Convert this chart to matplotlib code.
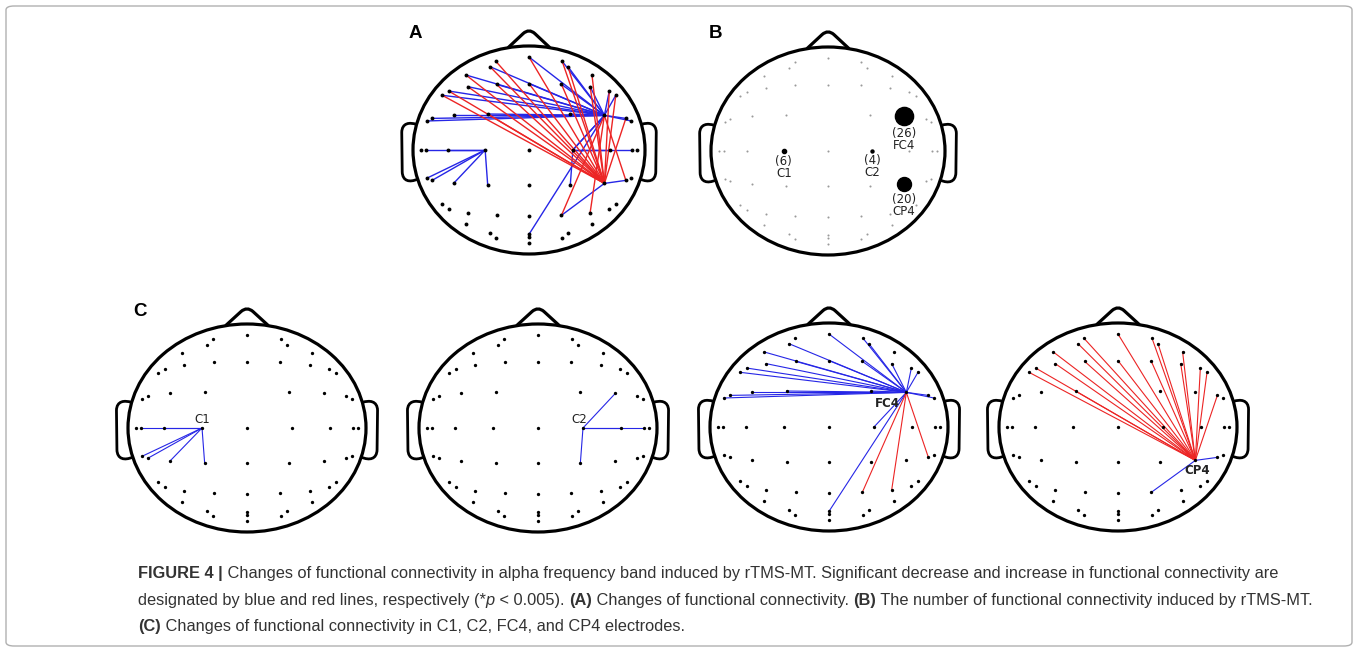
import matplotlib
matplotlib.use('Agg')
import matplotlib.pyplot as plt
from matplotlib.patches import Ellipse, PathPatch, FancyBboxPatch
from matplotlib.path import Path

W, H = 1358, 652

# electrode layout, normalised head coords (x right, y to the nose)
mid_names = ['Fpz', 'AFz', 'Cz', 'CPz', 'Pz', 'POz', 'Oz', 'Iz']
mid_y = [0.894, 0.638, 0.0, -0.337, -0.635, -0.811, -0.833, -0.891]

left_names = ['Fp1', 'AF3', 'AF7', 'F5', 'F1', 'F7', 'F9', 'FC7', 'FT9', 'FC3', 'FC1',
              'T7', 'T9', 'C3', 'C1', 'TP7', 'TP9', 'CP3', 'CP1',
              'P7', 'P9', 'P5', 'P1', 'PO7', 'O1', 'PO3']
right_names = ['Fp2', 'AF4', 'AF8', 'F6', 'F2', 'F8', 'F10', 'FC8', 'FT10', 'FC4', 'FC2',
               'T8', 'T10', 'C4', 'C2', 'TP8', 'TP10', 'CP4', 'CP2',
               'P8', 'P10', 'P6', 'P2', 'PO8', 'O2', 'PO4']
side_x = [0.286, 0.336, 0.543, 0.527, 0.280, 0.692, 0.748, 0.835, 0.882, 0.650, 0.356,
          0.888, 0.930, 0.695, 0.378, 0.835, 0.882, 0.650, 0.356,
          0.692, 0.748, 0.527, 0.280, 0.543, 0.286, 0.336]
side_y = [0.853, 0.801, 0.721, 0.609, 0.631, 0.567, 0.526, 0.304, 0.279, 0.333, 0.346,
          0.0, 0.0, 0.0, 0.0, -0.292, -0.272, -0.321, -0.337,
          -0.564, -0.522, -0.603, -0.628, -0.715, -0.843, -0.795]

# significant links of each seed electrode (blue = decrease, red = increase)
c1_blue = ['C3', 'T7', 'TP7', 'TP9', 'CP3', 'CP1']
c2_blue = ['FC4', 'C4', 'T8', 'CP2']
fc4_blue = ['Fpz', 'Fp2', 'AF4', 'AF3', 'AF7', 'F1', 'AFz', 'F2', 'F5', 'F6', 'F7', 'F9',
            'F8', 'F10', 'FC7', 'FT9', 'FC3', 'FC1', 'FC2', 'FC8', 'FT10', 'C2', 'POz']
fc4_red = ['P2', 'P6', 'TP8']
cp4_red = ['Fpz', 'Fp1', 'Fp2', 'AF3', 'AF4', 'AF7', 'AF8', 'F1', 'F2', 'AFz', 'F5', 'F6',
           'F7', 'F9', 'F8', 'F10', 'FC1', 'FC8']
cp4_blue = ['P2', 'TP8']

# panel B: number of links per seed
seeds = ['C1', 'C2', 'FC4', 'CP4']
counts = [6, 4, 26, 20]

BLUE = '#2626e6'
RED = '#ec2424'

pos = {}
for n, y in zip(mid_names, mid_y):
    pos[n] = (0.0, y)
for nl, nr, x, y in zip(left_names, right_names, side_x, side_y):
    pos[nl] = (-x, y)
    pos[nr] = (x, y)
ex = [p[0] for p in pos.values()]
ey = [p[1] for p in pos.values()]

fig = plt.figure(figsize=(W / 100, H / 100), dpi=100)


# head outline with nose and ears
def draw_head(ax):
    ax.add_patch(Ellipse((0, 0), 2, 2, fill=False, lw=2.3, color='black', clip_on=False))
    nose = Path([(-0.18, 0.984), (-0.05, 1.12), (0, 1.17), (0.05, 1.12), (0.18, 0.984)],
                [Path.MOVETO, Path.LINETO, Path.CURVE3, Path.CURVE3, Path.LINETO])
    ax.add_patch(PathPatch(nose, fill=False, lw=2.3, color='black', clip_on=False))
    for s in (-1, 1):
        ear = Path([(s * 0.968, 0.245), (s * 1.03, 0.27), (s * 1.095, 0.26), (s * 1.097, 0.17),
                    (s * 1.093, -0.21), (s * 1.09, -0.30), (s * 1.03, -0.315), (s * 0.96, -0.28)],
                   [Path.MOVETO, Path.CURVE4, Path.CURVE4, Path.CURVE4,
                    Path.LINETO, Path.CURVE4, Path.CURVE4, Path.CURVE4])
        ax.add_patch(PathPatch(ear, fill=False, lw=2.0, color='black', clip_on=False))


# one axes per head, placed by its centre and scale in pixels
def head_axes(cx, cy, a, b):
    x0, x1, y0, y1 = -1.3, 1.3, -1.15, 1.3
    left = cx + x0 * a
    bottom = H - cy + y0 * b
    ax = fig.add_axes([left / W, bottom / H, (x1 - x0) * a / W, (y1 - y0) * b / H])
    ax.set_xlim(x0, x1)
    ax.set_ylim(y0, y1)
    ax.axis('off')
    draw_head(ax)
    return ax


def draw_links(ax, seed, targets, color, lw=0.8):
    x0, y0 = pos[seed]
    for t in targets:
        ax.plot([x0, pos[t][0]], [y0, pos[t][1]], color=color, lw=lw, clip_on=False)


def draw_dots(ax, ms=2.4, color='black'):
    ax.plot(ex, ey, 'o', ms=ms, color=color, mec='none', clip_on=False, zorder=5)


# ---- panel A: all links
axA = head_axes(529, 150, 116, 104)
draw_links(axA, 'C1', c1_blue, BLUE, 1.0)
draw_links(axA, 'C2', c2_blue, BLUE, 1.0)
draw_links(axA, 'FC4', fc4_blue, BLUE, 1.0)
draw_links(axA, 'CP4', cp4_blue, BLUE, 1.0)
draw_links(axA, 'FC4', fc4_red, RED, 1.0)
draw_links(axA, 'CP4', cp4_red, RED, 1.0)
draw_dots(axA, 2.8)

# ---- panel B: number of links per seed
axB = head_axes(828, 151, 117, 104)
draw_dots(axB, 1.5, '#9a9a9a')
for s, c in zip(seeds, counts):
    d = max(0.7 * c, 3.0)  # diameter in px
    axB.plot(*pos[s], 'o', ms=d * 0.72, color='black', zorder=6)
    axB.annotate('(%d)\n%s' % (c, s), pos[s], xytext=(0, -(d / 2 + 1.5) * 0.72),
                 textcoords='offset points', ha='center', va='top', fontsize=8.5,
                 linespacing=0.95, color='#222222')

# ---- panel C: one head per seed
c_centres = [(247, 428), (538, 428), (829, 427), (1118, 427)]
label_off = [(0, 1.5), (-3, 1.5), (-14, -3), (1, -2.5)]
label_va = ['bottom', 'bottom', 'top', 'top']
label_w = ['normal', 'normal', 'bold', 'bold']
c_links = [[(c1_blue, BLUE)], [(c2_blue, BLUE)],
           [(fc4_blue, BLUE), (fc4_red, RED)], [(cp4_blue, BLUE), (cp4_red, RED)]]
for i, s in enumerate(seeds):
    ax = head_axes(c_centres[i][0], c_centres[i][1], 119, 104)
    for targets, col in c_links[i]:
        draw_links(ax, s, targets, col, 0.8)
    draw_dots(ax)
    ax.annotate(s, pos[s], xytext=label_off[i], textcoords='offset points',
                ha='center', va=label_va[i], fontsize=8.5, weight=label_w[i],
                color='#222222', zorder=7)

# panel letters
for lab, x, y in [('A', 415, 33), ('B', 715, 33), ('C', 140, 311)]:
    fig.text(x / W, 1 - y / H, lab, fontsize=13.5, weight='bold', family='Liberation Sans',
             ha='center', va='center')

# outer frame
fig.patches.append(FancyBboxPatch((6 / W, 6 / H), 1 - 12 / W, 1 - 12 / H,
                                  boxstyle='round,pad=0,rounding_size=0.006',
                                  transform=fig.transFigure, fill=False,
                                  ec='#b0b0b0', lw=1.0))

# caption with mixed weights, pieces laid out one after another
cap_font = ['Liberation Sans']
cap_size = 11.8
renderer = fig.canvas.get_renderer()


def text_width(txt, **kw):
    t = fig.text(0, 0, '.' + txt + '.', fontsize=cap_size, family=cap_font, **kw)
    t2 = fig.text(0, 0, '..', fontsize=cap_size, family=cap_font, **kw)
    w = t.get_window_extent(renderer).width - t2.get_window_extent(renderer).width
    t.remove()
    t2.remove()
    return w


def rich_line(x, y, pieces):
    for txt, wt, st in pieces:
        fig.text(x / W, 1 - y / H, txt, fontsize=cap_size, family=cap_font, weight=wt,
                 style=st, color='#333333', va='baseline', ha='left')
        x += text_width(txt, weight=wt, style=st)


N, B_, I_ = 'normal', 'bold', 'italic'
rich_line(138, 578, [('FIGURE 4 |', B_, N),
                     (' Changes of functional connectivity in alpha frequency band induced by rTMS-MT. '
                      'Significant decrease and increase in functional connectivity are', N, N)])
rich_line(138, 605, [('designated by blue and red lines, respectively (*', N, N), ('p', N, I_),
                     (' < 0.005). ', N, N), ('(A)', B_, N),
                     (' Changes of functional connectivity. ', N, N), ('(B)', B_, N),
                     (' The number of functional connectivity induced by rTMS-MT.', N, N)])
rich_line(138, 631, [('(C)', B_, N),
                     (' Changes of functional connectivity in C1, C2, FC4, and CP4 electrodes.', N, N)])

fig.savefig('out.png', dpi=100)
